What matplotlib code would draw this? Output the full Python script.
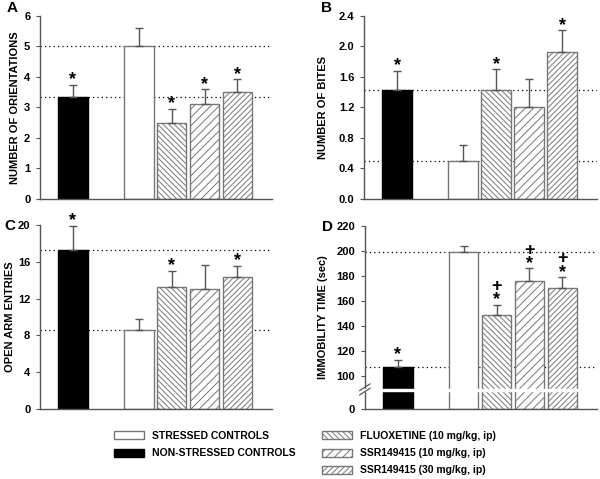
import numpy as np
import matplotlib
matplotlib.use('Agg')
import matplotlib.pyplot as plt
from matplotlib.patches import Patch
from matplotlib.lines import Line2D

plt.rcParams['font.family'] = ['Liberation Sans', 'DejaVu Sans']
plt.rcParams['font.weight'] = 'bold'
plt.rcParams['hatch.linewidth'] = 0.7

# groups (plot order left to right)
groups = ['NON-STRESSED CONTROLS', 'STRESSED CONTROLS', 'FLUOXETINE (10 mg/kg, ip)',
          'SSR149415 (10 mg/kg, ip)', 'SSR149415 (30 mg/kg, ip)']
positions = [0, 2, 3, 4, 5]
faces = ['black', 'white', 'white', 'white', 'white']
hatches = [None, None, '\\\\\\\\\\\\', '////', '//////']

orient_mean = [3.35, 5.0, 2.5, 3.13, 3.5]
orient_sem = [0.40, 0.60, 0.45, 0.47, 0.43]
orient_sig = ['*', '', '*', '*', '*']

bites_mean = [1.43, 0.50, 1.43, 1.21, 1.93]
bites_sem = [0.25, 0.21, 0.27, 0.37, 0.28]
bites_sig = ['*', '', '*', '', '*']

entries_mean = [17.3, 8.6, 13.3, 13.1, 14.4]
entries_sem = [2.6, 1.2, 1.7, 2.6, 1.2]
entries_sig = ['*', '', '*', '', '*']

immob_mean = [107, 199, 149, 176, 170.5]
immob_sem = [6, 5, 8, 10, 8.5]
# '+' = different from fluoxetine-free stressed group as marked in the figure
immob_sig = ['*', '', '+\n*', '+\n*', '+\n*']

EDGE = '#777777'
AXC = '#555555'


def draw_panel(ax, means, sems, sigs, ylabel, yticks, ylim, letter, label_pos, letter_pos,
               fmt='%g'):
    for p, m, fc, h in zip(positions, means, faces, hatches):
        ec = 'black' if fc == 'black' else EDGE
        ax.bar(p, m, width=0.9, color=fc, edgecolor=ec, hatch=h, linewidth=1.0, zorder=2)
    ax.errorbar(positions, means, yerr=[np.zeros(len(sems)), sems], fmt='none',
                ecolor=AXC, elinewidth=1.0, capsize=3, capthick=1.0, zorder=3)
    # reference lines at the two control means
    for v in means[:2]:
        ax.axhline(v, color='black', linestyle=(0, (1, 2.5)), linewidth=0.9, zorder=1)
    for p, m, s, t in zip(positions, means, sems, sigs):
        if t:
            ax.annotate(t, (p, m + s), xytext=(0, -2.5), textcoords='offset points',
                        ha='center', va='bottom', fontsize=13, fontweight='bold',
                        linespacing=0.72)
    ax.set_xlim(-1, 6.05)
    ax.set_ylim(*ylim)
    ax.set_yticks(yticks)
    ax.set_yticklabels([fmt % t for t in yticks], fontsize=8, fontweight='bold')
    ax.set_xticks([])
    for sp in ['top', 'right']:
        ax.spines[sp].set_visible(False)
    for sp in ['left', 'bottom']:
        ax.spines[sp].set_color(AXC)
        ax.spines[sp].set_linewidth(1.0)
    ax.tick_params(axis='y', direction='out', length=3, color=AXC, pad=4)
    ax.set_ylabel(ylabel, fontsize=8, fontweight='bold')
    ax.yaxis.set_label_coords(*label_pos)
    ax.text(letter_pos[0], letter_pos[1], letter, transform=ax.transAxes, fontsize=11,
            fontweight='bold', ha='center', va='center')


fig = plt.figure(figsize=(6, 4.79), dpi=100)

axA = fig.add_axes([0.0667, 0.5846, 0.3867, 0.382])
draw_panel(axA, orient_mean, orient_sem, orient_sig, 'NUMBER OF ORIENTATIONS',
           [0, 1, 2, 3, 4, 5, 6], (0, 6), 'A', (-0.086, 0.5), (-0.12, 1.045))

axB = fig.add_axes([0.6067, 0.5846, 0.388, 0.382])
draw_panel(axB, bites_mean, bites_sem, bites_sig, 'NUMBER OF BITES',
           [0.0, 0.4, 0.8, 1.2, 1.6, 2.0, 2.4], (0, 2.4), 'B', (-0.154, 0.5),
           (-0.16, 1.045), fmt='%.1f')

axC = fig.add_axes([0.0667, 0.1461, 0.3867, 0.384])
draw_panel(axC, entries_mean, entries_sem, entries_sig, 'OPEN ARM ENTRIES',
           [0, 4, 8, 12, 16, 20], (0, 20), 'C', (-0.106, 0.5), (-0.13, 0.995))


# panel D: broken axis, values below 100 compressed
def fwd(v):
    v = np.asarray(v, dtype=float)
    return np.where(v < 100, 73.6 + v * 0.264, v)


def inv(u):
    u = np.asarray(u, dtype=float)
    return np.where(u < 100, (u - 73.6) / 0.264, u)


axD = fig.add_axes([0.608, 0.1461, 0.387, 0.3823])
axD.set_yscale('function', functions=(fwd, inv))
draw_panel(axD, immob_mean, immob_sem, immob_sig, 'IMMOBILITY TIME (sec)',
           [0, 100, 120, 140, 160, 180, 200, 220], (0, 220), 'D', (-0.16, 0.5),
           (-0.16, 0.995))
# white gap across bars and axis + break marks
axD.axhspan(55, 62, xmin=-0.02, xmax=1.0, color='white', zorder=4, clip_on=False)
for dy in (-0.012, 0.012):
    axD.add_line(Line2D([-0.022, 0.022], [0.107 + dy - 0.018, 0.107 + dy + 0.018],
                        transform=axD.transAxes, color=AXC, lw=0.9, clip_on=False, zorder=5))

# legends
bold = {'weight': 'bold', 'size': 7.5}
h_left = [Patch(facecolor=faces[1], edgecolor=EDGE, label=groups[1]),
          Patch(facecolor=faces[0], edgecolor='black', label=groups[0])]
h_right = [Patch(facecolor='white', edgecolor=EDGE, hatch=hatches[i], label=groups[i])
           for i in (2, 3, 4)]
common = dict(frameon=False, prop=bold, handlelength=2.9, handleheight=0.8,
              labelspacing=0.68, handletextpad=0.75, borderpad=0, borderaxespad=0)
fig.legend(handles=h_left, loc='upper left', bbox_to_anchor=(0.19, 0.1), **common)
fig.legend(handles=h_right, loc='upper left', bbox_to_anchor=(0.537, 0.1), **common)

fig.savefig('out.png', dpi=100)
